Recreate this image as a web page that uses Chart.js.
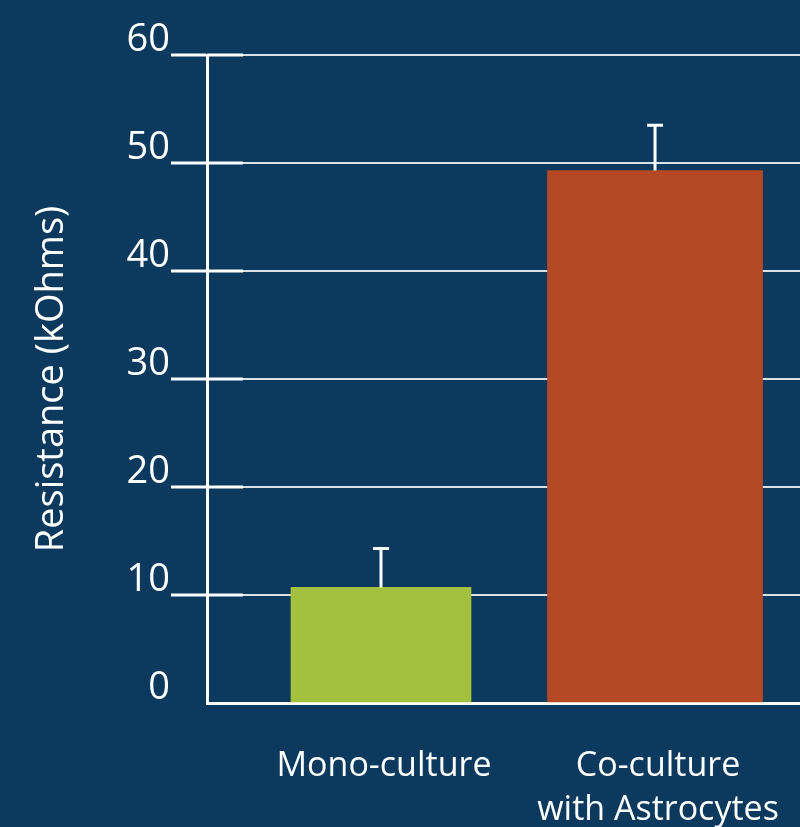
<!DOCTYPE html>
<html>
<head>
<meta charset="utf-8">
<script src="https://cdn.jsdelivr.net/npm/chart.js@4.4.0/dist/chart.umd.min.js"></script>
<style>
  html, body { margin: 0; padding: 0; background: #0c3a5f; }
  #wrap { width: 800px; height: 827px; }
</style>
</head>
<body>
<div id="wrap"><canvas id="grafico"></canvas></div>
<script>
const categorias = [['Mono-culture'], ['Co-culture', 'with Astrocytes']];
const resistencia = [10.7, 49.3];
const erro = [3.6, 4.2];
const ticksY = [0, 10, 20, 30, 40, 50, 60];

// fundo azul
const fundo = {
  id: 'fundo',
  beforeDraw(chart) {
    const ctx = chart.ctx;
    ctx.save();
    ctx.fillStyle = '#0c3a5f';
    ctx.fillRect(0, 0, chart.width, chart.height);
    ctx.restore();
  }
};

// barras de erro (so para cima)
const barrasErro = {
  id: 'barrasErro',
  afterDatasetsDraw(chart) {
    const ctx = chart.ctx;
    const y = chart.scales.y;
    const area = chart.chartArea;
    ctx.save();
    ctx.strokeStyle = '#ffffff';
    ctx.lineWidth = 3;
    chart.data.datasets.forEach((ds, i) => {
      const bar = chart.getDatasetMeta(i).data[0];
      const topo = y.getPixelForValue(resistencia[i] + erro[i]);
      ctx.beginPath();
      ctx.moveTo(bar.x, bar.y);
      ctx.lineTo(bar.x, topo);
      ctx.moveTo(bar.x - 8, topo);
      ctx.lineTo(bar.x + 8, topo);
      ctx.stroke();
    });
    // marcas grossas que entram na area do grafico
    ticksY.forEach(v => {
      if (v === 0) return;
      const py = y.getPixelForValue(v);
      ctx.beginPath();
      ctx.moveTo(area.left, py);
      ctx.lineTo(area.left + 36, py);
      ctx.stroke();
    });
    ctx.restore();
  }
};

new Chart(document.getElementById('grafico').getContext('2d'), {
  type: 'bar',
  data: {
    datasets: [
      {
        label: 'Mono-culture',
        data: [{ x: 0, y: resistencia[0] }],
        backgroundColor: '#a3c13c',
        grouped: false,
        barPercentage: 1,
        categoryPercentage: 1,
        maxBarThickness: 180
      },
      {
        label: 'Co-culture with Astrocytes',
        data: [{ x: 1, y: resistencia[1] }],
        backgroundColor: '#b54925',
        grouped: false,
        barPercentage: 1,
        categoryPercentage: 1,
        maxBarThickness: 215
      }
    ]
  },
  options: {
    responsive: true,
    maintainAspectRatio: false,
    animation: false,
    layout: { padding: { top: 55, right: 0, bottom: 0, left: 0 } },
    plugins: {
      legend: { display: false },
      tooltip: { enabled: false }
    },
    scales: {
      x: {
        type: 'linear',
        min: -0.635,
        max: 1.529,
        offset: false,
        bounds: 'data',
        afterBuildTicks: s => { s.ticks = categorias.map((c, i) => ({ value: i })); },
        afterFit: s => { s.height = 124; s.paddingLeft = 0; s.paddingRight = 0; },
        ticks: {
          callback: v => categorias[v],
          color: '#ffffff',
          font: { family: 'Open Sans', size: 34, lineHeight: 1.3 },
          padding: 33,
          labelOffset: 3,
          autoSkip: false,
          maxRotation: 0,
          minRotation: 0
        },
        grid: { display: false, offset: false },
        border: { color: '#ffffff', width: 3 }
      },
      y: {
        min: 0,
        max: 60,
        afterBuildTicks: s => { s.ticks = ticksY.map(v => ({ value: v })); },
        afterFit: s => { s.width = 207; },
        ticks: {
          color: '#ffffff',
          font: { family: 'Open Sans', size: 38 },
          padding: 1,
          labelOffset: -15
        },
        grid: {
          color: 'rgba(255,255,255,0.85)',
          lineWidth: 2,
          tickLength: 36,
          tickWidth: 3,
          tickColor: c => (c.tick && c.tick.value === 0) ? 'rgba(0,0,0,0)' : '#ffffff'
        },
        border: { color: '#ffffff', width: 3 },
        title: {
          display: true,
          text: 'Resistance (kOhms)',
          color: '#ffffff',
          font: { family: 'Open Sans', size: 38 },
          padding: { top: 29, bottom: 0 }
        }
      }
    }
  },
  plugins: [fundo, barrasErro]
});
</script>
</body>
</html>
